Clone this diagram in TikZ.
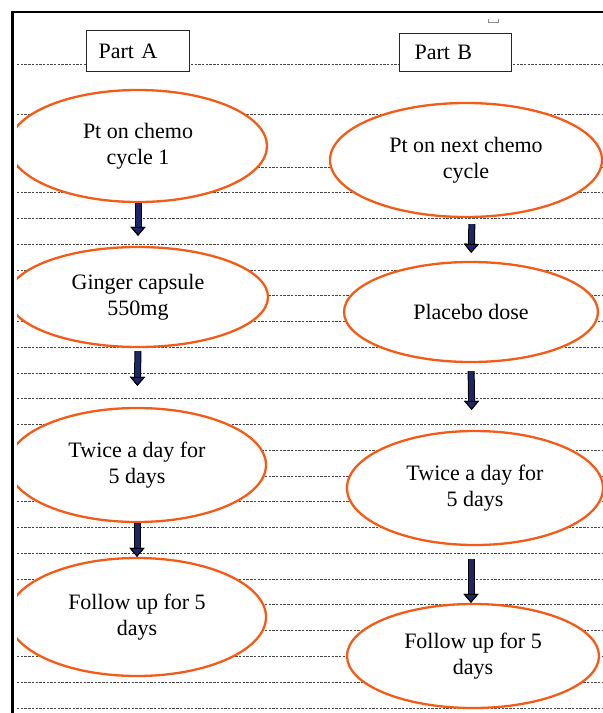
\documentclass[tikz,border=0pt]{standalone}
\usepackage{fontspec}
\setmainfont{Liberation Serif}
\usetikzlibrary{shapes.geometric,arrows.meta}
\definecolor{ellorange}{RGB}{242,92,24}
\definecolor{navyfill}{RGB}{28,38,105}
\definecolor{dashgray}{RGB}{70,70,70}
\tikzset{
  txt/.style={font=\fontsize{22}{25.5}\selectfont},
  ruleline/.style={draw=dashgray, line width=0.9pt, dash pattern=on 2.4pt off 1.3pt},
  ell/.style={ellipse, draw=ellorange, line width=2.3pt, fill=white, inner sep=0pt, align=center, txt},
  partbox/.style={draw=black!85, line width=1.1pt, fill=white, align=left, anchor=north west, inner ysep=0pt, txt},
  flowarrow/.style={line width=5pt, draw=navyfill,
    -{Triangle[length=9pt,width=15pt,line width=1pt,color=black,fill=navyfill]},
    preaction={draw=black, line width=7pt,
      -{Triangle[length=9pt,width=15pt,line width=1pt,color=black,fill=navyfill]}}}
}
\begin{document}
\begin{tikzpicture}[x=1pt,y=-1pt]
\useasboundingbox[fill=white] (0,0) rectangle (603,713);
% ruled lines
\foreach \yy in {64,114} \draw[ruleline] (17,\yy) -- (603,\yy);
\foreach \k in {0,...,21} \draw[ruleline] (17,{167+25.76*\k}) -- (603,{167+25.76*\k});
% frame
\draw[line width=2.8pt] (12.5,713) -- (12.5,12) -- (603,12);
% small mark
\draw[black!45, line width=0.8pt] (488,19) -- (488,22.5) -- (498,22.5) -- (498,19);
% part labels
\node[partbox, text width=79pt, inner xsep=12pt, minimum height=41pt] (PA) at (86,30) {Part A};
\node[partbox, text width=82pt, inner xsep=15pt, minimum height=38pt] (PB) at (399,33) {Part B};
% ellipses
\begin{scope}
\clip (17,0) rectangle (603,713);
\node[ell, minimum width=258pt, minimum height=112pt] (A1) at (138,146) {Pt on chemo\\cycle 1};
\node[ell, minimum width=260pt, minimum height=100pt] (A2) at (138,297) {Ginger capsule\\550mg};
\node[ell, minimum width=258pt, minimum height=114pt] (A3) at (137,465) {Twice a day for\\5 days};
\node[ell, minimum width=258pt, minimum height=118pt] (A4) at (137,617) {Follow up for 5\\days};
\node[ell, minimum width=272pt, minimum height=114pt] (B1) at (466,160) {Pt on next chemo\\cycle};
\node[ell, minimum width=254pt, minimum height=100pt] (B2) at (471,312) {Placebo dose};
\node[ell, minimum width=256pt, minimum height=114pt] (B3) at (475,488) {Twice a day for\\5 days};
\node[ell, minimum width=252pt, minimum height=104pt] (B4) at (473,656) {Follow up for 5\\days};
\end{scope}
% arrows
\draw[flowarrow, shorten <=0pt, shorten >=10pt] (A1.south) -- (A2.north);
\draw[flowarrow, shorten <=3pt, shorten >=21pt] (A2.south) -- (A3.north);
\draw[flowarrow, shorten <=0pt, shorten >=0pt] (A3.south) -- (A4.north);
\draw[flowarrow, shorten <=6pt, shorten >=8pt] ([xshift=6pt]B1.south) -- (B2.north);
\draw[flowarrow, shorten <=8pt, shorten >=20pt] (B2.south) -- ([xshift=-3pt]B3.north);
\draw[flowarrow, shorten <=13pt, shorten >=0pt] ([xshift=-4pt]B3.south) -- ([xshift=-2pt]B4.north);
\end{tikzpicture}
\end{document}
